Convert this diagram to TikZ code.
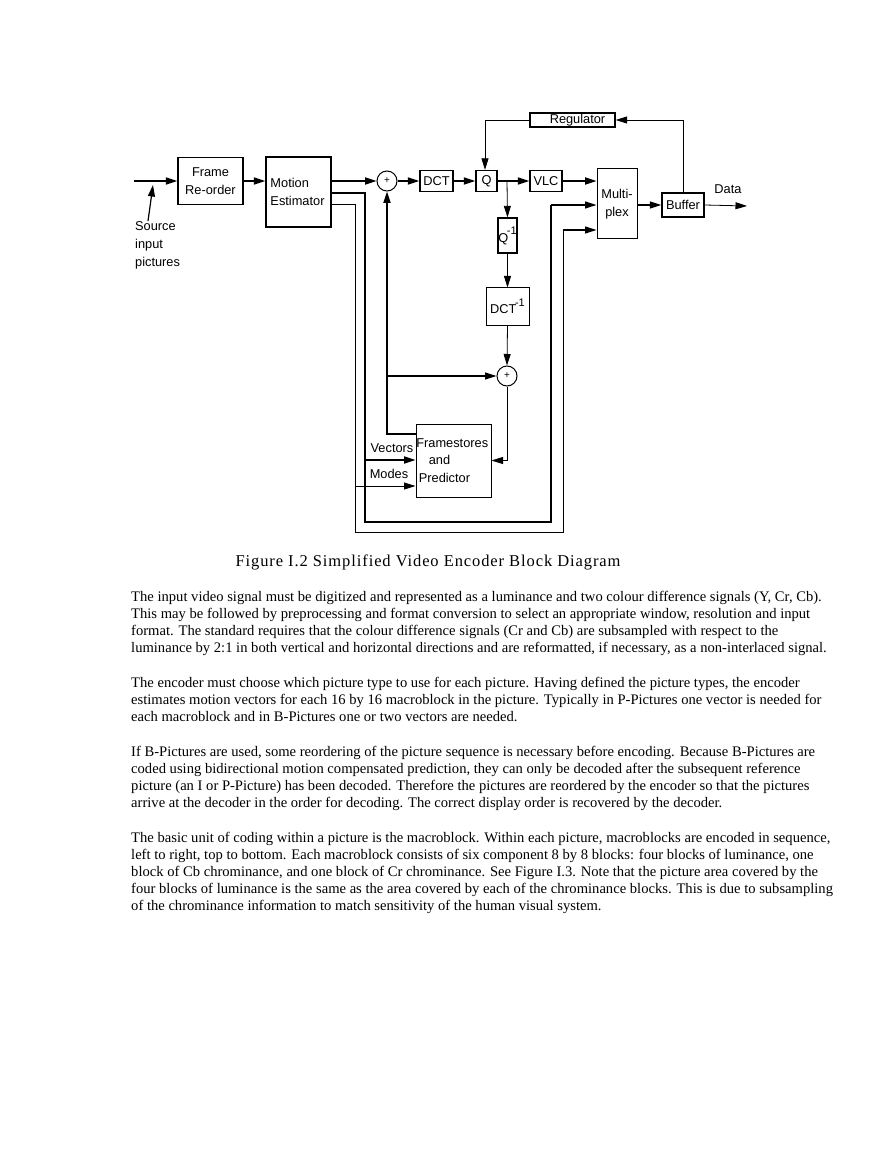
\documentclass[tikz,border=0pt]{standalone}
\usepackage{fontspec}
\setmainfont{Liberation Serif}
\setsansfont{Liberation Sans}
\newfontfamily\capfont[LetterSpace=5.5]{Liberation Serif}
\usetikzlibrary{arrows.meta}
\begin{document}
\begin{tikzpicture}[x=1pt,y=-1pt,
 blk/.style={draw,line width=1.3pt,inner sep=0pt,align=center,font=\sffamily\fontsize{12.8}{17.5}\selectfont},
 sumnode/.style={draw,circle,line width=1pt,minimum size=20pt,inner sep=0pt,font=\sffamily\fontsize{10}{10}\selectfont},
 lab/.style={font=\sffamily\fontsize{12.8}{18}\selectfont,inner sep=0pt},
 arr/.style={-{Triangle[length=11.5pt,width=7pt]}},
 thk/.style={line width=1.7pt},
 thn/.style={line width=0.8pt},
 med/.style={line width=1.2pt},
 body/.style={font=\fontsize{14.6}{17}\selectfont,anchor=base west,inner sep=0pt},
 captxt/.style={font=\capfont\fontsize{16.5}{20}\selectfont,anchor=base,inner sep=0pt},
]
\useasboundingbox[fill=white] (0,0) rectangle (893,1155);

% blocks
\node[blk,minimum width=65pt,minimum height=47pt] (frame) at (210.5,181) {Frame\\Re-order};
\node[blk,minimum width=65pt,minimum height=70pt,align=left] (motion) at (298.5,192) {\hspace{-2pt}Motion\\\hspace{-2pt}Estimator};
\node[sumnode] (sum1) at (387,181) {+};
\node[blk,minimum width=33pt,minimum height=21pt] (dct) at (436.5,181) {DCT};
\node[blk,minimum width=21pt,minimum height=21pt] (q) at (486.5,181) {Q};
\node[blk,minimum width=32pt,minimum height=21pt] (vlc) at (546,181) {VLC};
\node[blk,line width=1pt,minimum width=40pt,minimum height=70pt] (mux) at (617,204) {Multi-\\plex};
\node[blk,minimum width=42pt,minimum height=24pt] (buffer) at (683,205) {Buffer};
\node[blk,minimum width=85pt,minimum height=14pt] (reg) at (572.5,120) {\hspace{10pt}Regulator};
\node[blk,minimum width=19pt,minimum height=35pt] (qinv) at (507.5,235.5) {Q\hspace{-1.5pt}\raisebox{8pt}{\fontsize{11}{11}\selectfont -1}};
\node[blk,line width=1pt,minimum width=43pt,minimum height=37pt] (dctinv) at (507.5,306.5) {DCT\hspace{-1.5pt}\raisebox{7pt}{\fontsize{11}{11}\selectfont -1}};
\node[sumnode] (sum2) at (507,376) {+};
\node[blk,line width=1pt,minimum width=75pt,minimum height=73pt,align=left] (fs) at (453.5,460.5) {\hspace{-2.5pt}Framestores\\\hspace{10pt}and\\Predictor};

% labels
\node[lab,align=left,anchor=west] (src) at (135,245) {Source\\input\\pictures};
\node[lab] (data) at (728,189) {Data};
\node[lab] (vec) at (392,448) {Vectors};
\node[lab] (mod) at (389,474) {Modes};

% coordinates
\coordinate (in) at (134,181);
\coordinate (srcbot) at (148,221);
\coordinate (srctop) at (153,185);
\coordinate (out) at (747,206);

% main path
\draw[thk,arr] (in) -- (frame.west);
\draw[med,arr] (srcbot) -- (srctop);
\draw[thk,arr] (frame.east) -- (frame.east -| motion.west);
\draw[thk,arr] (motion.east |- sum1.west) -- (sum1.west);
\draw[thk,arr] (sum1.east) -- (dct.west);
\draw[thk,arr] (dct.east) -- (q.west);
\draw[thk,arr] (q.east) -- (vlc.west);
\draw[thk,arr] (vlc.east) -- (vlc.east -| mux.west);
\draw[med,arr] (mux.east |- buffer.west) -- (buffer.west);
\draw[thn,arr] (buffer.east) -- (out);

% regulator loop
\draw[thn,arr] (buffer.north) |- (reg.east);
\draw[thn,arr] (reg.west) -| (q.north -| 485,0);

% inverse path
\draw[thn,arr] (507,181) -- (qinv.north);
\draw[thn,arr] (qinv.south) -- (dctinv.north);
\draw[thn,arr] (dctinv.south) -- (sum2.north);
\draw[thn,arr] (sum2.south) |- (fs.east);

% prediction feedback
\draw[thk,arr] (fs.west |- 0,434) -| (sum1.south);
\draw[med,arr] (sum1.south |- sum2.west) -- (sum2.west);

% vectors and modes
\draw[med] (motion.east |- 0,193) -| (365,522) -| (551,205);
\draw[med,arr] (551,205) -- (mux.west |- 0,205);
\draw[thk,arr] (365,460) -- (fs.west |- 0,460);
\draw[thn] (motion.east |- 0,204) -| (355,532) -| (563,230);
\draw[med,arr] (563,230) -- (mux.west |- 0,230);
\draw[thn,arr] (355,486) -- (fs.west |- 0,486);

% caption
\node[captxt] (caption) at (428,566) {Figure I.2 Simplified Video Encoder Block Diagram};

% body text
\node[body] (b1) at (131,601) {The input video signal must be digitized and represented as a luminance and two colour difference signals (Y, Cr, Cb).};
\node[body] (b2) at (131,618) {This may be followed by preprocessing and format conversion to select an appropriate window, resolution and input};
\node[body] (b3) at (131,635) {format.  The standard requires that the colour difference signals (Cr and Cb) are subsampled with respect to the};
\node[body] (b4) at (131,652) {luminance by 2:1 in both vertical and horizontal directions and are reformatted, if necessary, as a non-interlaced signal.};

\node[body] (b5) at (131,687) {The encoder must choose which picture type to use for each picture.  Having defined the picture types, the encoder};
\node[body] (b6) at (131,704) {estimates motion vectors for each 16 by 16 macroblock in the picture.  Typically in P-Pictures one vector is needed for};
\node[body] (b7) at (131,721) {each macroblock and in B-Pictures one or two vectors are needed.};

\node[body] (b8) at (131,756) {If B-Pictures are used, some reordering of the picture sequence is necessary before encoding.  Because B-Pictures are};
\node[body] (b9) at (131,773) {coded using bidirectional motion compensated prediction, they can only be decoded after the subsequent  reference};
\node[body] (b10) at (131,790) {picture (an I or P-Picture) has been decoded.  Therefore the pictures are reordered by the encoder so that the pictures};
\node[body] (b11) at (131,807) {arrive at the decoder in the order for decoding.  The correct display order is recovered by the decoder.};

\node[body] (b12) at (131,842) {The basic unit of coding within a picture is the macroblock.  Within each picture, macroblocks are encoded in sequence,};
\node[body] (b13) at (131,859) {left to right, top to bottom. Each macroblock consists of six component 8 by 8 blocks: four blocks of luminance, one};
\node[body] (b14) at (131,876) {block of Cb chrominance, and one block of Cr chrominance. See Figure I.3. Note that the picture area covered by the};
\node[body] (b15) at (131,893) {four blocks of luminance is the same as the area covered by each of the chrominance blocks. This is due to subsampling};
\node[body] (b16) at (131,910) {of the chrominance information to match sensitivity of the human visual system.};
\end{tikzpicture}
\end{document}
